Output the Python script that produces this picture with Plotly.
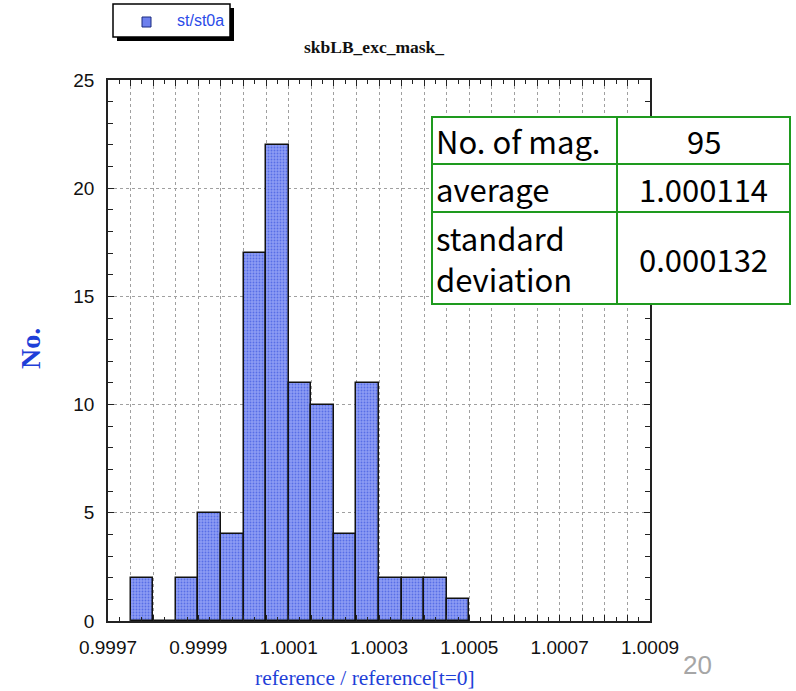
import plotly.graph_objects as go

# Histogram of reference / reference[t=0]
bin_lo = [0.99975, 0.99980, 0.99985, 0.99990, 0.99995, 1.00000, 1.00005,
          1.00010, 1.00015, 1.00020, 1.00025, 1.00030, 1.00035, 1.00040, 1.00045]
counts = [2, 0, 2, 5, 4, 17, 22, 11, 10, 4, 11, 2, 2, 2, 1]
bin_width = 0.00005

x_grid_vals = [round(0.9997 + i * 0.00005, 5) for i in range(25)]
x_tick_labels = ["0.9997", "0.9999", "1.0001", "1.0003", "1.0005", "1.0007", "1.0009"]
x_tick_text = [x_tick_labels[i // 4] if i % 4 == 0 else "" for i in range(25)]

series_name = "st/st0a"
title_text = "skbLB_exc_mask_"
stat_labels = [["No. of mag."], ["average"], ["standard", "deviation"]]
stat_values = ["95", "1.000114", "0.000132"]

W, H = 796, 691
L, R, T, B = 108, 146, 80, 70
PW, PH = W - L - R, H - T - B


def px(x):
    return (x - L) / PW


def py(y):
    return (H - B - y) / PH


BAR_FG = "#2440d8"
BAR_BG = "#8c9cf4"

fig = go.Figure()
fig.add_trace(go.Bar(
    x=[lo + bin_width / 2 for lo in bin_lo],
    y=counts,
    width=[bin_width] * len(bin_lo),
    name=series_name,
    marker=dict(color=BAR_BG,
                line=dict(color="#111111", width=1.5),
                pattern=dict(shape=".", fgcolor=BAR_FG, bgcolor=BAR_BG,
                             size=3, solidity=0.3)),
    showlegend=False,
))

tick_font = dict(family="Liberation Sans, Arial", size=19, color="#111111")

fig.update_xaxes(
    range=[0.9997, 1.0009],
    tickmode="array", tickvals=x_grid_vals, ticktext=x_tick_text,
    ticks="inside", ticklen=6, tickcolor="#222222",
    minor=dict(dtick=0.000025, tick0=0.9997, ticks="inside", ticklen=4,
               tickcolor="#222222", showgrid=False),
    showgrid=True, gridcolor="#a0a0a0", griddash="dot", gridwidth=1,
    showline=True, linecolor="#222222", linewidth=1.5, mirror="ticks",
    tickfont=tick_font, zeroline=False, ticklabelstandoff=8,
)
fig.update_yaxes(
    range=[0, 25], tick0=0, dtick=5,
    ticks="inside", ticklen=6, tickcolor="#222222",
    minor=dict(dtick=1, ticks="inside", ticklen=5, tickcolor="#222222",
               showgrid=False),
    showgrid=True, gridcolor="#a0a0a0", griddash="dot", gridwidth=1,
    showline=True, linecolor="#222222", linewidth=1.5, mirror="ticks",
    tickfont=tick_font, zeroline=False, ticklabelstandoff=8,
)

shapes = []
annotations = []

# legend box with drop shadow
shapes.append(dict(type="rect", xref="paper", yref="paper",
                   x0=px(117), x1=px(234), y0=py(41), y1=py(8),
                   fillcolor="#000000", line=dict(width=0), layer="above"))
shapes.append(dict(type="rect", xref="paper", yref="paper",
                   x0=px(113), x1=px(230), y0=py(37), y1=py(4),
                   fillcolor="#ffffff", line=dict(color="#000000", width=1.5),
                   layer="above"))
shapes.append(dict(type="rect", xref="paper", yref="paper",
                   x0=px(142), x1=px(151), y0=py(27), y1=py(17),
                   fillcolor="#6d80ee", line=dict(color="#1a2a80", width=1),
                   layer="above"))
annotations.append(dict(text=series_name, xref="paper", yref="paper",
                        x=px(175), y=py(21), xanchor="left", yanchor="middle",
                        showarrow=False,
                        font=dict(family="Liberation Sans, Arial", size=16,
                                  color="#2a4be8")))

# title
annotations.append(dict(text="<b>" + title_text + "</b>", xref="paper", yref="paper",
                        x=px(374), y=py(47), xanchor="center", yanchor="middle",
                        showarrow=False,
                        font=dict(family="Liberation Serif, Times New Roman",
                                  size=17.5, color="#111111")))

# axis titles
annotations.append(dict(text="<b>No.</b>", xref="paper", yref="paper",
                        x=px(30), y=py(349), xanchor="center", yanchor="middle",
                        textangle=-90, showarrow=False,
                        font=dict(family="Liberation Serif, Times New Roman",
                                  size=28, color="#1f3fd8")))
annotations.append(dict(text="reference / reference[t=0]", xref="paper", yref="paper",
                        x=px(365), y=py(678), xanchor="center", yanchor="middle",
                        showarrow=False,
                        font=dict(family="Liberation Serif, Times New Roman",
                                  size=21.5, color="#1f3fd8")))

# statistics table
GREEN = "#1e9a1e"
tx0, tx1, tx2 = 432, 617, 790
row_edges = [117, 164, 212, 304]
line_step = 41
shapes.append(dict(type="rect", xref="paper", yref="paper",
                   x0=px(tx0), x1=px(tx2), y0=py(row_edges[-1]), y1=py(row_edges[0]),
                   fillcolor="#ffffff", line=dict(color=GREEN, width=2),
                   layer="above"))
shapes.append(dict(type="line", xref="paper", yref="paper",
                   x0=px(tx1), x1=px(tx1), y0=py(row_edges[-1]), y1=py(row_edges[0]),
                   line=dict(color=GREEN, width=2), layer="above"))
for ye in row_edges[1:-1]:
    shapes.append(dict(type="line", xref="paper", yref="paper",
                       x0=px(tx0), x1=px(tx2), y0=py(ye), y1=py(ye),
                       line=dict(color=GREEN, width=2), layer="above"))

table_font = dict(family="Noto Sans CJK JP", size=31, color="#000000")
for i, (lines, value) in enumerate(zip(stat_labels, stat_values)):
    yc = (row_edges[i] + row_edges[i + 1]) / 2
    first = yc - line_step * (len(lines) - 1) / 2
    for j, text in enumerate(lines):
        annotations.append(dict(text=text, xref="paper", yref="paper",
                                x=px(tx0 + 2), y=py(first + j * line_step),
                                xanchor="left", yanchor="middle",
                                showarrow=False, font=table_font))
    annotations.append(dict(text=value, xref="paper", yref="paper",
                            x=px((tx1 + tx2) / 2), y=py(yc), xanchor="center",
                            yanchor="middle", showarrow=False, font=table_font))

# page number
annotations.append(dict(text="20", xref="paper", yref="paper",
                        x=px(697), y=py(665), xanchor="center", yanchor="middle",
                        showarrow=False,
                        font=dict(family="Liberation Sans, Arial", size=26,
                                  color="#a6a6a6")))

fig.update_layout(
    width=W, height=H,
    margin=dict(l=L, r=R, t=T, b=B),
    paper_bgcolor="#ffffff", plot_bgcolor="#ffffff",
    bargap=0,
    shapes=shapes, annotations=annotations,
    showlegend=False,
)

fig.write_html("out.html")
